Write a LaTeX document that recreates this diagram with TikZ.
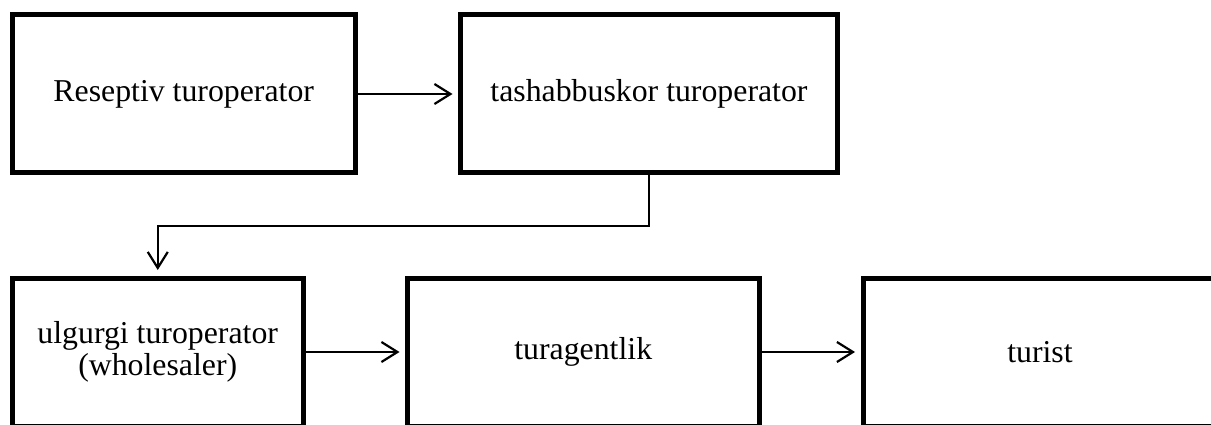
\documentclass[tikz,border=0pt]{standalone}
\usepackage{fontspec}
\setmainfont{Liberation Serif}
\usetikzlibrary{arrows.meta}
\begin{document}
\begin{tikzpicture}[x=1pt,y=-1pt,
  box/.style={draw=black, line width=5pt, line join=miter, rectangle,
    inner sep=2pt, align=center, font=\fontsize{31.8}{32}\selectfont},
  arr/.style={line width=2.2pt, shorten >=5.5pt,
    -{Straight Barb[length=16pt,width=20pt]}}]
\useasboundingbox (0,0) rectangle (1211,425);
\clip (0,0) rectangle (1211,425);
% top row
\node[box, minimum width=342.5pt, minimum height=158pt] (b1) at (183.75,94) {Reseptiv turoperator};
\node[box, minimum width=377pt, minimum height=158pt] (b2) at (649,94) {tashabbuskor turoperator};
% bottom row (runs past the lower and right edges)
\node[box, minimum width=290.5pt, minimum height=148pt] (b3) at (157.75,352) {ulgurgi turoperator\\(wholesaler)};
\node[box, minimum width=351.5pt, minimum height=148pt] (b4) at (583.25,352) {turagentlik};
\node[box, minimum width=354pt, minimum height=148pt] (b5) at (1040,352) {turist};
% connectors
\draw[arr] (b1.east) -- (b2.west);
\draw[arr, line join=miter] (b2.south) -- ++(0,50.7) -| (b3.north);
\draw[arr] (b3.east) -- (b4.west);
\draw[arr] (b4.east) -- (b5.west);
\end{tikzpicture}
\end{document}
